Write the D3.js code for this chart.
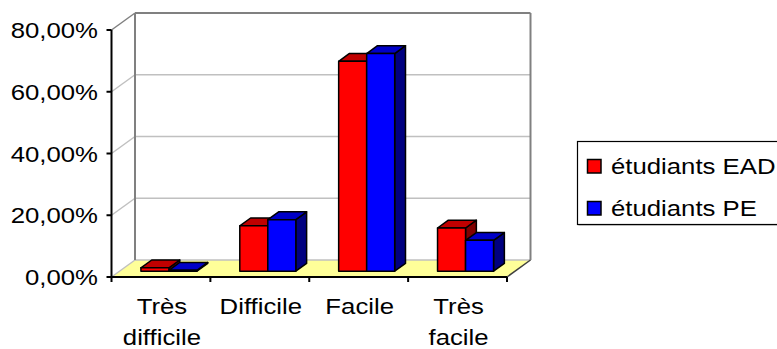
<!DOCTYPE html>
<html>
<head>
<meta charset="utf-8">
<script src="https://cdn.jsdelivr.net/npm/d3@7"></script>
<style>
html,body{margin:0;padding:0;background:#fff;}
svg{display:block;}
text{font-family:"Liberation Sans",Arial,sans-serif;fill:#000;}
</style>
</head>
<body>
<div id="chart"></div>
<script>
const categories = [["Très","difficile"],["Difficile"],["Facile"],["Très","facile"]];
const seriesNames = ["étudiants EAD","étudiants PE"];
const valuesEAD = [1.1, 14.7, 68.0, 14.0];
const valuesPE = [0.3, 16.7, 70.5, 10.0];
const yTicks = [0, 20, 40, 60, 80];

const W = 777, H = 349;
const svg = d3.select("#chart").append("svg").attr("width", W).attr("height", H);

const DX = 23.5, DY = 17;      // wall depth
const F0 = 0.34, F1 = 0.8;     // bar depth fraction
const X0 = 111.5, X1 = 507;
const y = d3.scaleLinear().domain([0, 80]).range([277, 30]);
const x = d3.scaleBand().domain(d3.range(categories.length)).range([X0, X1]).padding(0);
const xs = d3.scaleBand().domain([0, 1]).range([0, x.bandwidth()]).paddingInner(0).paddingOuter(0.765);

const fmt = v => d3.format(".2f")(v).replace(".", ",") + "%";
const SX = 1.17, FS = 22;

// floor
const yb = y(0);
svg.append("path")
  .attr("d", `M${X0},${yb}L${X1},${yb}L${X1+DX},${yb-DY}L${X0+DX},${yb-DY}Z`)
  .attr("fill", "#ffff99").attr("stroke", "none");
// side wall grid (diagonals) and back grid
yTicks.forEach(v => {
  if (v === 0) return;
  const yy = y(v);
  svg.append("line").attr("x1", X0).attr("y1", yy).attr("x2", X0+DX).attr("y2", yy-DY)
    .attr("stroke", v === 80 ? "#808080" : "#c0c0c0").attr("stroke-width", 1.5);
  svg.append("line").attr("x1", X0+DX).attr("y1", yy-DY).attr("x2", X1+DX).attr("y2", yy-DY)
    .attr("stroke", v === 80 ? "#808080" : "#c0c0c0").attr("stroke-width", v === 80 ? 2 : 1.5);
});
// floor edges
svg.append("line").attr("x1", X0).attr("y1", yb).attr("x2", X0+DX).attr("y2", yb-DY)
  .attr("stroke", "#c0c0c0").attr("stroke-width", 1.5);
svg.append("line").attr("x1", X0+DX).attr("y1", yb-DY).attr("x2", X1+DX).attr("y2", yb-DY)
  .attr("stroke", "#c0c0c0").attr("stroke-width", 1.5);
svg.append("line").attr("x1", X1).attr("y1", yb).attr("x2", X1+DX).attr("y2", yb-DY)
  .attr("stroke", "#404040").attr("stroke-width", 1.5);
// back wall left & right edges
svg.append("line").attr("x1", X0+DX).attr("y1", y(80)-DY).attr("x2", X0+DX).attr("y2", yb-DY)
  .attr("stroke", "#808080").attr("stroke-width", 2);
svg.append("line").attr("x1", X1+DX).attr("y1", y(80)-DY).attr("x2", X1+DX).attr("y2", yb-DY)
  .attr("stroke", "#808080").attr("stroke-width", 2);

// bars
const colors = [
  {front:"#ff0000", top:"#c00000", side:"#800000"},
  {front:"#0000ff", top:"#0000c8", side:"#000080"}
];
const series = [valuesEAD, valuesPE];
const bdx = (F1 - F0) * DX, bdy = (F1 - F0) * DY;
categories.forEach((c, i) => {
  series.forEach((vals, s) => {
    const col = colors[s];
    const xl = x(i) + xs(s) + F0 * DX;
    const xr = xl + xs.bandwidth();
    const ybase = y(0) - F0 * DY;
    const ytop = y(vals[i]) - F0 * DY;
    const g = svg.append("g").attr("stroke", "#000").attr("stroke-width", 1.5).attr("stroke-linejoin", "round");
    g.append("path").attr("fill", col.side)
      .attr("d", `M${xr},${ytop}L${xr+bdx},${ytop-bdy}L${xr+bdx},${ybase-bdy}L${xr},${ybase}Z`);
    g.append("path").attr("fill", col.top)
      .attr("d", `M${xl},${ytop}L${xl+bdx},${ytop-bdy}L${xr+bdx},${ytop-bdy}L${xr},${ytop}Z`);
    g.append("rect").attr("fill", col.front)
      .attr("x", xl).attr("y", ytop).attr("width", xr - xl).attr("height", Math.max(0, ybase - ytop));
  });
});

// axes
svg.append("line").attr("x1", X0).attr("y1", y(80)).attr("x2", X0).attr("y2", yb)
  .attr("stroke", "#000").attr("stroke-width", 2);
svg.append("line").attr("x1", X0).attr("y1", yb).attr("x2", X1).attr("y2", yb)
  .attr("stroke", "#000").attr("stroke-width", 2);
yTicks.forEach(v => {
  svg.append("line").attr("x1", X0-5).attr("y1", y(v)).attr("x2", X0).attr("y2", y(v))
    .attr("stroke", "#000").attr("stroke-width", 2);
  svg.append("text").attr("transform", `translate(98,${y(v)+8}) scale(${SX},1)`)
    .attr("text-anchor", "end").attr("font-size", FS).text(fmt(v));
});
d3.range(categories.length + 1).forEach(i => {
  const xx = i < categories.length ? x(i) : X1;
  svg.append("line").attr("x1", xx).attr("y1", yb).attr("x2", xx).attr("y2", yb+5)
    .attr("stroke", "#000").attr("stroke-width", 2);
});
categories.forEach((lines, i) => {
  const cx = x(i) + x.bandwidth() / 2 + 1;
  lines.forEach((ln, k) => {
    svg.append("text").attr("transform", `translate(${cx},${314 + k*31}) scale(${SX},1)`)
      .attr("text-anchor", "middle").attr("font-size", FS).text(ln);
  });
});

// legend
svg.append("rect").attr("x", 578.5).attr("y", 142.5).attr("width", 210).attr("height", 83)
  .attr("fill", "#a0a0a0");
svg.append("rect").attr("x", 577.5).attr("y", 141.5).attr("width", 210).attr("height", 83)
  .attr("fill", "#fff").attr("stroke", "#000").attr("stroke-width", 1.2);
seriesNames.forEach((n, s) => {
  const yy = 166 + s * 42;
  svg.append("rect").attr("x", 587.5).attr("y", yy - 6.5).attr("width", 13.5).attr("height", 13.5)
    .attr("fill", colors[s].front).attr("stroke", "#000").attr("stroke-width", 1.5);
  svg.append("text").attr("transform", `translate(611,${yy + 8}) scale(${SX},1)`)
    .attr("font-size", FS).text(n);
});
</script>
</body>
</html>
